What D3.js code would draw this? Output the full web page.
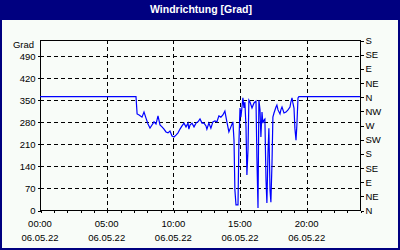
<!DOCTYPE html>
<html>
<head>
<meta charset="utf-8">
<script src="https://cdn.jsdelivr.net/npm/d3@7"></script>
<style>
  body { margin: 0; background: #fff; }
  text { font-family: "Liberation Sans", Arial, sans-serif; }
</style>
</head>
<body>
<script>
// readings of the day (time of day, direction in degrees)
var times = ["00:00","07:12","07:17","07:26","07:39","07:48","07:57","08:06","08:15","08:24",
  "08:33","08:42","08:51","09:00","09:09","09:18","09:27","09:36","09:45","09:54",
  "10:03","10:12","10:21","10:30","10:39","10:48","10:57","11:06","11:10","11:15",
  "11:24","11:33","11:42","11:51","12:00","12:09","12:18","12:27","12:31","12:40",
  "12:49","12:58","13:07","13:16","13:25","13:34","13:43","13:52","14:01","14:10",
  "14:19","14:28","14:33","14:37","14:42","14:51","14:55","15:00","15:04","15:09",
  "15:13","15:18","15:22","15:27","15:31","15:36","15:40","15:45","15:54","16:03",
  "16:12","16:16","16:21","16:25","16:30","16:34","16:39","16:43","16:48","16:52",
  "16:57","17:01","17:06","17:10","17:15","17:19","17:24","17:28","17:33","17:42",
  "17:46","17:51","18:00","18:04","18:09","18:18","18:27","18:36","18:45","18:49",
  "18:54","18:58","19:03","19:07","19:12","19:16","19:21","19:25","24:00"];
var grad = [360,360,305,302,295,311,292,273,260,270,
  280,273,299,270,264,257,248,245,251,235,
  232,238,245,257,267,276,264,276,257,270,
  276,264,276,280,289,276,276,267,257,276,
  260,280,283,280,299,295,302,314,280,248,
  264,280,222,64,16,16,213,324,295,327,
  356,324,343,264,111,191,349,343,324,340,
  346,168,6,349,318,232,311,276,286,289,
  95,22,184,260,64,25,149,295,308,327,
  333,318,305,318,327,308,311,318,327,343,
  356,340,324,260,222,270,356,360,360];

var gradTicks = [0, 70, 140, 210, 280, 350, 420, 490];
var dirLabels = ["N","NE","E","SE","S","SW","W","NW","N","NE","E","SE","S"];
var hourLabels = [0, 5, 10, 15, 20];
var dateLabel = "06.05.22";
var title = "Windrichtung [Grad]";

var W = 400, H = 250;
var navy = "#000080";

var x = d3.scaleLinear().domain([0, 24]).range([40, 360]);
var y = d3.scaleLinear().domain([0, 540]).range([210, 40]);

var data = times.map(function(t, i) {
  var p = t.split(":");
  return { h: +p[0] + p[1] / 60, v: grad[i] };
});

var svg = d3.select("body").append("svg")
    .attr("width", W)
    .attr("height", H);

// frame and title bar
svg.append("rect").attr("width", W).attr("height", H).attr("fill", navy);
svg.append("rect")
    .attr("x", 2).attr("y", 20)
    .attr("width", W - 4).attr("height", H - 22)
    .attr("fill", "#f8fcf8");
svg.append("text")
    .attr("x", 201).attr("y", 12.5)
    .attr("text-anchor", "middle")
    .attr("fill", "#fff")
    .attr("font-weight", "bold")
    .attr("font-size", "10.5px")
    .text(title);

var g = svg.append("g").attr("shape-rendering", "crispEdges");

// dashed grid
g.selectAll(".hgrid")
    .data(gradTicks.filter(function(d) { return d > 0; }))
  .enter().append("line")
    .attr("x1", x(0)).attr("x2", x(24))
    .attr("y1", function(d) { return Math.round(y(d)) + 0.5; })
    .attr("y2", function(d) { return Math.round(y(d)) + 0.5; })
    .attr("stroke", "#000")
    .attr("stroke-dasharray", "4,3");
g.selectAll(".vgrid")
    .data(hourLabels.filter(function(d) { return d > 0; }))
  .enter().append("line")
    .attr("x1", function(d) { return Math.round(x(d)) + 0.5; })
    .attr("x2", function(d) { return Math.round(x(d)) + 0.5; })
    .attr("y1", y(540)).attr("y2", y(0))
    .attr("stroke", "#000")
    .attr("stroke-dasharray", "4,3");

// the series
svg.append("path")
    .datum(data)
    .attr("fill", "none")
    .attr("stroke", "#0000ff")
    .attr("stroke-width", 1.2)
    .attr("d", d3.line()
      .x(function(d) { return x(d.h); })
      .y(function(d) { return y(d.v); }));

// plot box
g.append("rect")
    .attr("x", 40.5).attr("y", 40.5)
    .attr("width", 320).attr("height", 170)
    .attr("fill", "none")
    .attr("stroke", "#000");

function styleAxis(sel) {
  sel.select(".domain").remove();
  sel.selectAll("line").attr("stroke", "#000");
  sel.selectAll("text")
      .attr("fill", "#000")
      .attr("font-size", "9.5px")
      .attr("font-family", "'Liberation Sans', Arial, sans-serif");
}

// left axis
g.append("g")
    .attr("transform", "translate(40.5,0.5)")
    .call(d3.axisLeft(y).tickValues(gradTicks).tickSize(3).tickPadding(2))
    .call(styleAxis);
svg.append("text")
    .attr("x", 34).attr("y", 48)
    .attr("text-anchor", "end")
    .attr("font-size", "9.5px")
    .text("Grad");

// right axis with compass points
g.append("g")
    .attr("transform", "translate(360.5,0.5)")
    .call(d3.axisRight(y).tickValues(d3.range(0, 541, 45)).tickSize(3).tickPadding(2)
      .tickFormat(function(d, i) { return dirLabels[i]; }))
    .call(styleAxis);

// bottom axis, hourly ticks
g.append("g")
    .attr("transform", "translate(0.5,210.5)")
    .call(d3.axisBottom(x).ticks(24).tickValues(d3.range(0, 25)).tickSize(2)
      .tickFormat(""))
    .call(styleAxis);

var lab = svg.append("g").selectAll(".xl")
    .data(hourLabels)
  .enter().append("g")
    .attr("transform", function(d) { return "translate(" + x(d) + ",0)"; });
lab.append("text")
    .attr("y", 227)
    .attr("text-anchor", "middle")
    .attr("font-size", "9.5px")
    .text(function(d) { return (d < 10 ? "0" : "") + d + ":00"; });
lab.append("text")
    .attr("y", 241)
    .attr("text-anchor", "middle")
    .attr("font-size", "9.5px")
    .text(dateLabel);
</script>
</body>
</html>
